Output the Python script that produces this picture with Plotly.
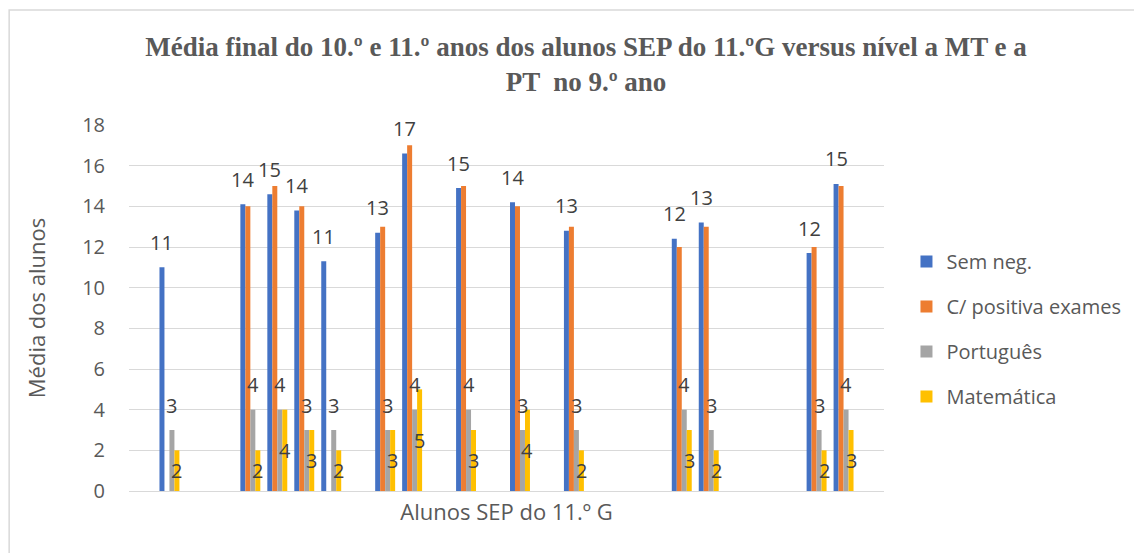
import plotly.graph_objects as go

# ---- data ----
students = [f"Aluno {i}" for i in range(1, 29)]
sem_neg = [None, 11.0, None, None, 14.1, 14.6, 13.8, 11.3, None, 12.7, 16.6, None, 14.9, None,
           14.2, None, 12.8, None, None, None, 12.4, 13.2, None, None, None, 11.7, 15.1, None]
positiva_exames = [None, None, None, None, 14, 15, 14, None, None, 13, 17, None, 15, None,
                   14, None, 13, None, None, None, 12, 13, None, None, None, 12, 15, None]
portugues = [None, 3, None, None, 4, 4, 3, 3, None, 3, 4, None, 4, None,
             3, None, 3, None, None, None, 4, 3, None, None, None, 3, 4, None]
matematica = [None, 2, None, None, 2, 4, 3, 2, None, 3, 5, None, 3, None,
              4, None, 2, None, None, None, 3, 2, None, None, None, 2, 3, None]

series_names = ["Sem neg.", "C/ positiva exames", "Português", "Matemática"]
colors = ["#4472C4", "#ED7D31", "#A5A5A5", "#FFC000"]
title_text = ("Média final do 10.º e 11.º anos dos alunos SEP do 11.ºG versus nível a MT e a"
              "<br>PT  no 9.º ano")
y_title = "Média dos alunos"
x_title = "Alunos SEP do 11.º G"

FONT = "Open Sans"
AXIS_COL = "#595959"
LABEL_COL = "#404040"

# page has an 8px body margin: figure coordinates = page coordinates - 8
OFF = 8
W, H = 1142 - OFF, 553 - OFF
L, R = 128.5 - OFF, 884.5 - OFF
T, B = 125 - OFF, 491 - OFF
pw, ph = R - L, B - T

fig = go.Figure()
for i, (name, vals) in enumerate(zip(series_names,
                                     [sem_neg, positiva_exames, portugues, matematica])):
    fig.add_trace(go.Bar(
        x=students, y=vals, name=name, marker_color=colors[i],
        marker_line_width=0, legendgroup=name,
    ))

# data labels (annotations anchored to the data through the axes)
BARGAP = 0.26
cat_px = pw / len(students)
bar_px = cat_px * (1 - BARGAP) / 4
offsets = [(-1.5 + k) * bar_px for k in range(4)]
lab_font = dict(family=FONT, size=20, color=LABEL_COL)

ann = []
for s, v in zip(students, sem_neg):
    if v is not None:
        ann.append(dict(x=s, y=v, text=f"{v:.0f}", xshift=offsets[0], yshift=25,
                        showarrow=False, font=lab_font))
for s, v in zip(students, portugues):
    if v is not None:
        ann.append(dict(x=s, y=v, text=f"{v:.0f}", xshift=offsets[2], yshift=25,
                        showarrow=False, font=lab_font))
for s, v in zip(students, matematica):
    if v is not None:
        ann.append(dict(x=s, y=v / 2, text=f"{v:.0f}", xshift=offsets[3], yshift=0,
                        showarrow=False, font=lab_font))

fig.update_layout(
    width=W, height=H,
    margin=dict(l=L, r=W - R, t=T, b=H - B, autoexpand=False),
    paper_bgcolor="white", plot_bgcolor="white",
    barmode="group", bargap=BARGAP, bargroupgap=0,
    title=dict(text=title_text, x=(586 - OFF) / W, xanchor="center",
               y=1 - (56 - OFF) / H, yanchor="middle", yref="container",
               font=dict(family="Liberation Serif", size=27, color=AXIS_COL, weight="bold")),
    xaxis=dict(type="category", showticklabels=False, ticks="", showgrid=False,
               showline=True, linecolor="#D9D9D9", linewidth=1,
               title=dict(text=x_title, standoff=13,
                          font=dict(family=FONT, size=22, color=AXIS_COL))),
    yaxis=dict(range=[0, 18], dtick=2, showgrid=True, gridcolor="#D9D9D9", gridwidth=1,
               zeroline=True, zerolinecolor="#D9D9D9", zerolinewidth=1,
               tickfont=dict(family=FONT, size=20, color=AXIS_COL),
               ticklabelstandoff=23,
               title=dict(text=y_title, standoff=30,
                          font=dict(family=FONT, size=22, color=AXIS_COL))),
    legend=dict(x=(907 - OFF - L) / pw, xanchor="left", y=(B - (242 - OFF)) / ph,
                yanchor="top",
                font=dict(family=FONT, size=20, color=AXIS_COL),
                traceorder="grouped", tracegroupgap=16, bgcolor="rgba(0,0,0,0)"),
    annotations=ann,
    shapes=[dict(type="rect", xref="paper", yref="paper",
                 x0=(0.5 - L) / pw, x1=(W + 5 - L) / pw,
                 y0=(B - (H + 5)) / ph, y1=(B - (10 - OFF)) / ph,
                 line=dict(color="#D9D9D9", width=1.5), fillcolor="rgba(0,0,0,0)",
                 layer="below")],
)

fig.write_html("out.html")
